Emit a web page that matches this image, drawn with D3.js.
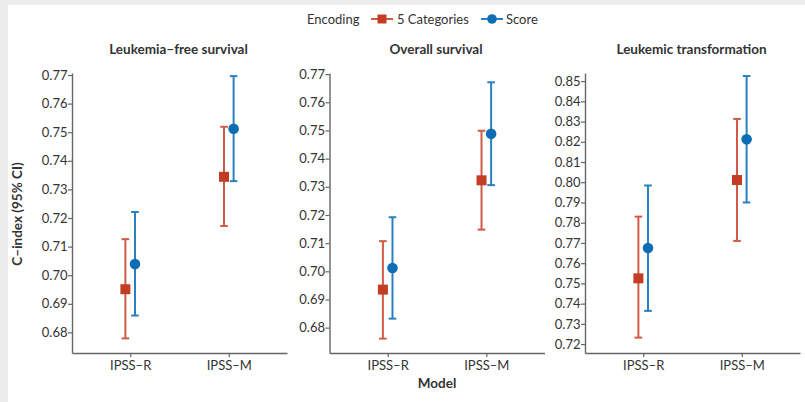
<!DOCTYPE html>
<html>
<head>
<meta charset="utf-8">
<script src="https://cdn.jsdelivr.net/npm/d3@7"></script>
<style>
  html, body { margin: 0; padding: 0; background: #fff; }
  svg { display: block; }
  text { font-family: Lato, "Open Sans", sans-serif; fill: #333; }
</style>
</head>
<body>
<div id="chart"></div>
<script>
var panels = ['Leukemia\u2013free survival', 'Overall survival', 'Leukemic transformation'];
var models = ['IPSS\u2013R', 'IPSS\u2013M'];
var encodings = ['5 Categories', 'Score'];

// c-index point estimates and 95% CI, per panel: [IPSS-R, IPSS-M]
var catEst = [[0.6951, 0.7344], [0.6935, 0.7323], [0.7525, 0.8011]];
var catLow = [[0.6779, 0.7172], [0.6761, 0.7148], [0.7232, 0.7710]];
var catHigh = [[0.7126, 0.7519], [0.7107, 0.7499], [0.7830, 0.8313]];
var scoreEst = [[0.7039, 0.7512], [0.7012, 0.7488], [0.7675, 0.8212]];
var scoreLow = [[0.6859, 0.7329], [0.6832, 0.7306], [0.7364, 0.7900]];
var scoreHigh = [[0.7221, 0.7696], [0.7192, 0.7671], [0.7984, 0.8525]];

var yDomains = [[0.6728, 0.7707], [0.6710, 0.7704], [0.7156, 0.8540]];
var yTicks = [
  d3.range(68, 78).map(function (v) { return v / 100; }),
  d3.range(68, 78).map(function (v) { return v / 100; }),
  d3.range(72, 86).map(function (v) { return v / 100; })
];

var W = 805, H = 402;
var red = '#c33d25', redLine = '#cf5a45', blue = '#0f6db3', blueLine = '#2a80c0';
var panelLeft = [72, 329.5, 585];
var panelW = 215;
var plotTop = 73, plotBottom = 353;
var font = 'Lato, "Open Sans", sans-serif';

var svg = d3.select('#chart').append('svg').attr('width', W).attr('height', H);
svg.append('rect').attr('width', W).attr('height', H).attr('fill', '#ececec');
svg.append('rect').attr('x', 8).attr('y', 5).attr('width', W - 8).attr('height', H - 5).attr('fill', '#fff');

panels.forEach(function (title, p) {
  var x = d3.scalePoint().domain(models).range([panelLeft[p], panelLeft[p] + panelW]).padding(0.59);
  var ys = d3.scaleLinear().domain(yDomains[p]).range([plotBottom, plotTop]);
  var g = svg.append('g');

  var yAxis = g.append('g').attr('transform', 'translate(' + panelLeft[p] + ',0)')
    .call(d3.axisLeft(ys).tickValues(yTicks[p]).tickFormat(d3.format('.2f')).tickSize(4).tickSizeOuter(0));
  var xAxis = g.append('g').attr('transform', 'translate(0,' + plotBottom + ')')
    .call(d3.axisBottom(x).tickSize(4).tickSizeOuter(0));
  [yAxis, xAxis].forEach(function (a) {
    a.select('.domain').attr('stroke', '#666').attr('stroke-width', 1.4);
    a.selectAll('.tick line').attr('stroke', '#666').attr('stroke-width', 1.2);
    a.selectAll('.tick text').attr('font-size', 13).attr('fill', '#333').style('font-family', font);
  });
  yAxis.selectAll('.tick text').attr('x', -4.5);
  xAxis.selectAll('.tick text').attr('y', 8);

  g.append('text').attr('x', panelLeft[p] + panelW / 2 - 1).attr('y', 54)
    .attr('text-anchor', 'middle').attr('font-size', 13.5).attr('font-weight', 'bold').text(title);

  var series = [
    { est: catEst[p], low: catLow[p], high: catHigh[p], dx: -4.8, color: red, line: redLine, shape: 'square' },
    { est: scoreEst[p], low: scoreLow[p], high: scoreHigh[p], dx: 4.8, color: blue, line: blueLine, shape: 'circle' }
  ];
  series.forEach(function (s) {
    models.forEach(function (m, i) {
      var cx = x(m) + s.dx;
      g.append('line').attr('x1', cx).attr('x2', cx)
        .attr('y1', ys(s.low[i])).attr('y2', ys(s.high[i]))
        .attr('stroke', s.line).attr('stroke-width', 2);
      [s.low[i], s.high[i]].forEach(function (v) {
        g.append('line').attr('x1', cx - 3.8).attr('x2', cx + 3.8)
          .attr('y1', ys(v)).attr('y2', ys(v))
          .attr('stroke', s.line).attr('stroke-width', 2);
      });
      if (s.shape === 'square') {
        g.append('rect').attr('x', cx - 5).attr('y', ys(s.est[i]) - 5)
          .attr('width', 10).attr('height', 10).attr('fill', s.color);
      } else {
        g.append('circle').attr('cx', cx).attr('cy', ys(s.est[i])).attr('r', 5.3).attr('fill', s.color);
      }
    });
  });
});

// y label and x label
svg.append('text').attr('transform', 'translate(22,214) rotate(-90)')
  .attr('text-anchor', 'middle').attr('font-size', 13.5).attr('font-weight', 'bold').text('C\u2013index (95% CI)');
svg.append('text').attr('x', 437).attr('y', 388)
  .attr('text-anchor', 'middle').attr('font-size', 13.5).attr('font-weight', 'bold').text('Model');

// legend
var lg = svg.append('g');
lg.append('text').attr('x', 307).attr('y', 23.5).attr('font-size', 13).text('Encoding');
var legendItems = [
  { label: encodings[0], cx: 382, tx: 397, color: red, line: redLine, shape: 'square' },
  { label: encodings[1], cx: 492, tx: 506, color: blue, line: blueLine, shape: 'circle' }
];
legendItems.forEach(function (d) {
  lg.append('line').attr('x1', d.cx - 11).attr('x2', d.cx + 11).attr('y1', 19).attr('y2', 19)
    .attr('stroke', d.line).attr('stroke-width', 2);
  if (d.shape === 'square') {
    lg.append('rect').attr('x', d.cx - 4.5).attr('y', 14.5).attr('width', 9).attr('height', 9).attr('fill', d.color);
  } else {
    lg.append('circle').attr('cx', d.cx).attr('cy', 19).attr('r', 4.8).attr('fill', d.color);
  }
  lg.append('text').attr('x', d.tx).attr('y', 23.5).attr('font-size', 13).text(d.label);
});
</script>
</body>
</html>
